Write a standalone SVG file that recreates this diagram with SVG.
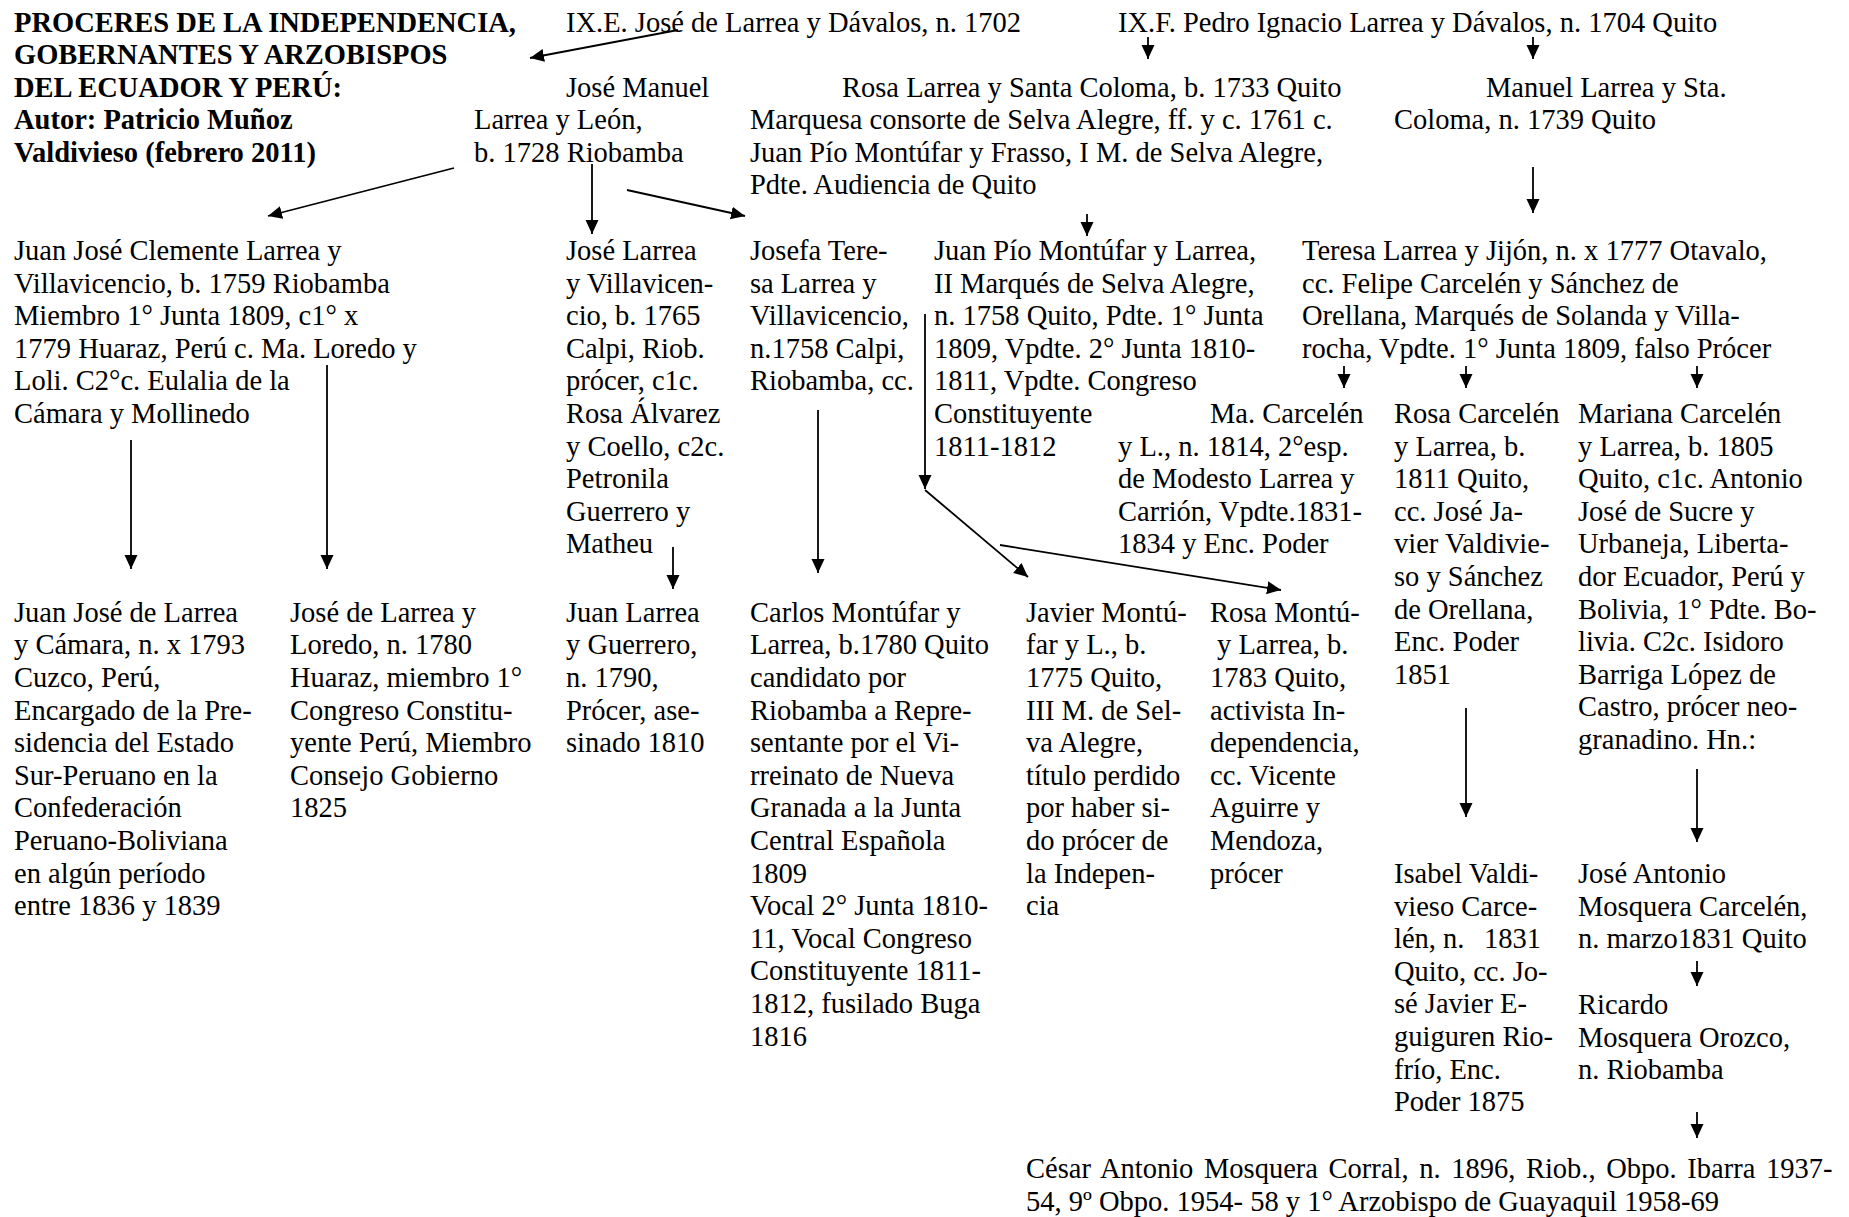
<svg xmlns="http://www.w3.org/2000/svg" width="1849" height="1217" viewBox="0 0 1849 1217">
<style>
text{font-family:"Liberation Serif","Times New Roman",serif;font-size:28.5px;fill:#000}
.b{font-weight:bold}
.c line{stroke:#000;stroke-width:1.8;fill:none;marker-end:url(#ah)}
</style>
<defs>
<marker id="ah" viewBox="0 0 14 14" refX="14" refY="7" markerWidth="14" markerHeight="14" markerUnits="userSpaceOnUse" orient="auto">
<path d="M0,0.5 L14,7 L0,13.5 z" fill="#000"/>
</marker>
</defs>
<rect width="1849" height="1217" fill="#fff"/>

<g id="title">
<text class="b" x="14" y="31.5"><tspan x="14">PROCERES DE LA INDEPENDENCIA,</tspan><tspan x="14" dy="32.5">GOBERNANTES Y ARZOBISPOS</tspan><tspan x="14" dy="32.5">DEL ECUADOR Y PERÚ:</tspan><tspan x="14" dy="32.5">Autor: Patricio Muñoz</tspan><tspan x="14" dy="32.5">Valdivieso (febrero 2011)</tspan></text>
</g>

<g id="ixe"><text x="566" y="31.5">IX.E. José de Larrea y Dávalos, n. 1702</text></g>
<g id="ixf"><text x="1118" y="31.5">IX.F. Pedro Ignacio Larrea y Dávalos, n. 1704 Quito</text></g>

<g id="jose-manuel">
<text y="96.5"><tspan x="566">José Manuel</tspan><tspan x="474" dy="32.6">Larrea y León,</tspan><tspan x="474" dy="32.6">b. 1728 Riobamba</tspan></text>
</g>

<g id="rosa-larrea">
<text y="96.5"><tspan x="842">Rosa Larrea y Santa Coloma, b. 1733 Quito</tspan><tspan x="750" dy="32.6">Marquesa consorte de Selva Alegre, ff. y c. 1761 c.</tspan><tspan x="750" dy="32.6">Juan Pío Montúfar y Frasso, I M. de Selva Alegre,</tspan><tspan x="750" dy="32.6">Pdte. Audiencia de Quito</tspan></text>
</g>

<g id="manuel-larrea">
<text y="96.5"><tspan x="1486">Manuel Larrea y Sta.</tspan><tspan x="1394" dy="32.6">Coloma, n. 1739 Quito</tspan></text>
</g>

<g id="juan-jose-clemente">
<text y="260"><tspan x="14">Juan José Clemente Larrea y</tspan><tspan x="14" dy="32.6">Villavicencio, b. 1759 Riobamba</tspan><tspan x="14" dy="32.6">Miembro 1° Junta 1809, c1° x</tspan><tspan x="14" dy="32.6">1779 Huaraz, Perú c. Ma. Loredo y</tspan><tspan x="14" dy="32.6">Loli. C2°c. Eulalia de la</tspan><tspan x="14" dy="32.6">Cámara y Mollinedo</tspan></text>
</g>

<g id="jose-larrea-villavicencio">
<text y="260"><tspan x="566">José Larrea</tspan><tspan x="566" dy="32.6">y Villavicen-</tspan><tspan x="566" dy="32.6">cio, b. 1765</tspan><tspan x="566" dy="32.6">Calpi, Riob.</tspan><tspan x="566" dy="32.6">prócer, c1c.</tspan><tspan x="566" dy="32.6">Rosa Álvarez</tspan><tspan x="566" dy="32.6">y Coello, c2c.</tspan><tspan x="566" dy="32.6">Petronila</tspan><tspan x="566" dy="32.6">Guerrero y</tspan><tspan x="566" dy="32.6">Matheu</tspan></text>
</g>

<g id="josefa-teresa">
<text y="260"><tspan x="750">Josefa Tere-</tspan><tspan x="750" dy="32.6">sa Larrea y</tspan><tspan x="750" dy="32.6">Villavicencio,</tspan><tspan x="750" dy="32.6">n.1758 Calpi,</tspan><tspan x="750" dy="32.6">Riobamba, cc.</tspan></text>
</g>

<g id="juan-pio">
<text y="260"><tspan x="934">Juan Pío Montúfar y Larrea,</tspan><tspan x="934" dy="32.6">II Marqués de Selva Alegre,</tspan><tspan x="934" dy="32.6">n. 1758 Quito, Pdte. 1° Junta</tspan><tspan x="934" dy="32.6">1809, Vpdte. 2° Junta 1810-</tspan><tspan x="934" dy="32.6">1811, Vpdte. Congreso</tspan><tspan x="934" dy="32.6">Constituyente</tspan><tspan x="934" dy="32.6">1811-1812</tspan></text>
</g>

<g id="teresa-larrea">
<text y="260"><tspan x="1302">Teresa Larrea y Jijón, n. x 1777 Otavalo,</tspan><tspan x="1302" dy="32.6">cc. Felipe Carcelén y Sánchez de</tspan><tspan x="1302" dy="32.6">Orellana, Marqués de Solanda y Villa-</tspan><tspan x="1302" dy="32.6">rocha, Vpdte. 1° Junta 1809, falso Prócer</tspan></text>
</g>

<g id="ma-carcelen">
<text y="423"><tspan x="1210">Ma. Carcelén</tspan><tspan x="1118" dy="32.6">y L., n. 1814, 2°esp.</tspan><tspan x="1118" dy="32.6">de Modesto Larrea y</tspan><tspan x="1118" dy="32.6">Carrión, Vpdte.1831-</tspan><tspan x="1118" dy="32.6">1834 y Enc. Poder</tspan></text>
</g>

<g id="rosa-carcelen">
<text y="423"><tspan x="1394">Rosa Carcelén</tspan><tspan x="1394" dy="32.6">y Larrea, b.</tspan><tspan x="1394" dy="32.6">1811 Quito,</tspan><tspan x="1394" dy="32.6">cc. José Ja-</tspan><tspan x="1394" dy="32.6">vier Valdivie-</tspan><tspan x="1394" dy="32.6">so y Sánchez</tspan><tspan x="1394" dy="32.6">de Orellana,</tspan><tspan x="1394" dy="32.6">Enc. Poder</tspan><tspan x="1394" dy="32.6">1851</tspan></text>
</g>

<g id="mariana-carcelen">
<text y="423"><tspan x="1578">Mariana Carcelén</tspan><tspan x="1578" dy="32.6">y Larrea, b. 1805</tspan><tspan x="1578" dy="32.6">Quito, c1c. Antonio</tspan><tspan x="1578" dy="32.6">José de Sucre y</tspan><tspan x="1578" dy="32.6">Urbaneja, Liberta-</tspan><tspan x="1578" dy="32.6">dor Ecuador, Perú y</tspan><tspan x="1578" dy="32.6">Bolivia, 1° Pdte. Bo-</tspan><tspan x="1578" dy="32.6">livia. C2c. Isidoro</tspan><tspan x="1578" dy="32.6">Barriga López de</tspan><tspan x="1578" dy="32.6">Castro, prócer neo-</tspan><tspan x="1578" dy="32.6">granadino. Hn.:</tspan></text>
</g>

<g id="juan-jose-camara">
<text y="621.7"><tspan x="14">Juan José de Larrea</tspan><tspan x="14" dy="32.6">y Cámara, n. x 1793</tspan><tspan x="14" dy="32.6">Cuzco, Perú,</tspan><tspan x="14" dy="32.6">Encargado de la Pre-</tspan><tspan x="14" dy="32.6">sidencia del Estado</tspan><tspan x="14" dy="32.6">Sur-Peruano en la</tspan><tspan x="14" dy="32.6">Confederación</tspan><tspan x="14" dy="32.6">Peruano-Boliviana</tspan><tspan x="14" dy="32.6">en algún período</tspan><tspan x="14" dy="32.6">entre 1836 y 1839</tspan></text>
</g>

<g id="jose-loredo">
<text y="621.7"><tspan x="290">José de Larrea y</tspan><tspan x="290" dy="32.6">Loredo, n. 1780</tspan><tspan x="290" dy="32.6">Huaraz, miembro 1°</tspan><tspan x="290" dy="32.6">Congreso Constitu-</tspan><tspan x="290" dy="32.6">yente Perú, Miembro</tspan><tspan x="290" dy="32.6">Consejo Gobierno</tspan><tspan x="290" dy="32.6">1825</tspan></text>
</g>

<g id="juan-guerrero">
<text y="621.7"><tspan x="566">Juan Larrea</tspan><tspan x="566" dy="32.6">y Guerrero,</tspan><tspan x="566" dy="32.6">n. 1790,</tspan><tspan x="566" dy="32.6">Prócer, ase-</tspan><tspan x="566" dy="32.6">sinado 1810</tspan></text>
</g>

<g id="carlos-montufar">
<text y="621.7"><tspan x="750">Carlos Montúfar y</tspan><tspan x="750" dy="32.6">Larrea, b.1780 Quito</tspan><tspan x="750" dy="32.6">candidato por</tspan><tspan x="750" dy="32.6">Riobamba a Repre-</tspan><tspan x="750" dy="32.6">sentante por el Vi-</tspan><tspan x="750" dy="32.6">rreinato de Nueva</tspan><tspan x="750" dy="32.6">Granada a la Junta</tspan><tspan x="750" dy="32.6">Central Española</tspan><tspan x="750" dy="32.6">1809</tspan><tspan x="750" dy="32.6">Vocal 2° Junta 1810-</tspan><tspan x="750" dy="32.6">11, Vocal Congreso</tspan><tspan x="750" dy="32.6">Constituyente 1811-</tspan><tspan x="750" dy="32.6">1812, fusilado Buga</tspan><tspan x="750" dy="32.6">1816</tspan></text>
</g>

<g id="javier-montufar">
<text y="621.7"><tspan x="1026">Javier Montú-</tspan><tspan x="1026" dy="32.6">far y L., b.</tspan><tspan x="1026" dy="32.6">1775 Quito,</tspan><tspan x="1026" dy="32.6">III M. de Sel-</tspan><tspan x="1026" dy="32.6">va Alegre,</tspan><tspan x="1026" dy="32.6">título perdido</tspan><tspan x="1026" dy="32.6">por haber si-</tspan><tspan x="1026" dy="32.6">do prócer de</tspan><tspan x="1026" dy="32.6">la Indepen-</tspan><tspan x="1026" dy="32.6">cia</tspan></text>
</g>

<g id="rosa-montufar">
<text y="621.7"><tspan x="1210">Rosa Montú-</tspan><tspan x="1217" dy="32.6">y Larrea, b.</tspan><tspan x="1210" dy="32.6">1783 Quito,</tspan><tspan x="1210" dy="32.6">activista In-</tspan><tspan x="1210" dy="32.6">dependencia,</tspan><tspan x="1210" dy="32.6">cc. Vicente</tspan><tspan x="1210" dy="32.6">Aguirre y</tspan><tspan x="1210" dy="32.6">Mendoza,</tspan><tspan x="1210" dy="32.6">prócer</tspan></text>
</g>

<g id="isabel-valdivieso">
<text y="883"><tspan x="1394">Isabel Valdi-</tspan><tspan x="1394" dy="32.6">vieso Carce-</tspan><tspan x="1394" dy="32.6">lén, n.</tspan><tspan x="1484">1831</tspan><tspan x="1394" dy="32.6">Quito, cc. Jo-</tspan><tspan x="1394" dy="32.6">sé Javier E-</tspan><tspan x="1394" dy="32.6">guiguren Rio-</tspan><tspan x="1394" dy="32.6">frío, Enc.</tspan><tspan x="1394" dy="32.6">Poder 1875</tspan></text>
</g>

<g id="jose-antonio-mosquera">
<text y="883"><tspan x="1578">José Antonio</tspan><tspan x="1578" dy="32.6">Mosquera Carcelén,</tspan><tspan x="1578" dy="32.6">n. marzo1831 Quito</tspan></text>
</g>

<g id="ricardo-mosquera">
<text y="1014"><tspan x="1578">Ricardo</tspan><tspan x="1578" dy="32.6">Mosquera Orozco,</tspan><tspan x="1578" dy="32.6">n. Riobamba</tspan></text>
</g>

<g id="cesar-mosquera">
<text y="1178"><tspan x="1026" word-spacing="3.5">César Antonio Mosquera Corral, n. 1896, Riob., Obpo. Ibarra 1937-</tspan><tspan x="1026" dy="32.6">54, 9º Obpo. 1954- 58 y 1° Arzobispo de Guayaquil 1958-69</tspan></text>
</g>

<g id="connectors" class="c">
<line x1="678" y1="30" x2="530" y2="58"/>
<line x1="1148" y1="37" x2="1148" y2="59"/>
<line x1="1533" y1="37" x2="1533" y2="59"/>
<line x1="454" y1="168" x2="268" y2="216"/>
<line x1="592" y1="164" x2="592" y2="234"/>
<line x1="627" y1="190" x2="745" y2="216"/>
<line x1="1087" y1="214" x2="1087" y2="236"/>
<line x1="1533" y1="167" x2="1533" y2="213"/>
<line x1="131" y1="440" x2="131" y2="569"/>
<line x1="327" y1="365" x2="327" y2="569"/>
<line x1="673" y1="547" x2="673" y2="589"/>
<line x1="818" y1="410" x2="818" y2="573"/>
<line x1="925" y1="314" x2="925" y2="489"/>
<line x1="925" y1="490" x2="1028" y2="577"/>
<line x1="1000" y1="545" x2="1281" y2="590"/>
<line x1="1344" y1="366" x2="1344" y2="388"/>
<line x1="1466" y1="366" x2="1466" y2="388"/>
<line x1="1697" y1="366" x2="1697" y2="388"/>
<line x1="1466" y1="708" x2="1466" y2="817"/>
<line x1="1697" y1="769" x2="1697" y2="842"/>
<line x1="1697" y1="961" x2="1697" y2="986"/>
<line x1="1697" y1="1112" x2="1697" y2="1138"/>
</g>
</svg>
